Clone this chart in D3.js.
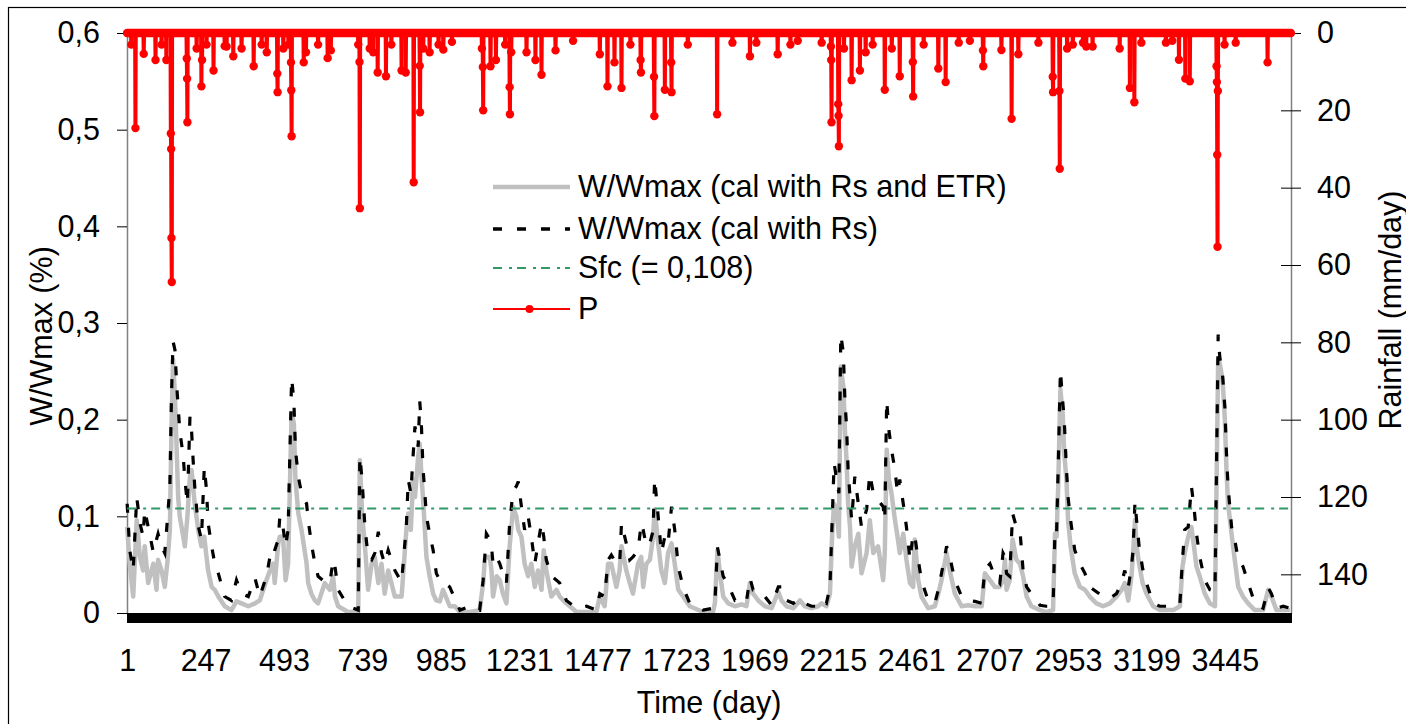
<!DOCTYPE html>
<html><head><meta charset="utf-8">
<script src="https://cdn.jsdelivr.net/npm/d3@7"></script>
<style>
html,body{margin:0;padding:0;background:#fff;overflow:hidden}
svg{display:block}
</style></head><body>
<svg id="chart" width="1406" height="724"></svg>
<script>
// ---------------- DATA ----------------
const nDays = 3652;
const xTickDays = [1,247,493,739,985,1231,1477,1723,1969,2215,2461,2707,2953,3199,3445];
const leftTicks = [0,0.1,0.2,0.3,0.4,0.5,0.6];
const rightTicks = [0,20,40,60,80,100,120,140];
const sfcValue = 0.108;
const seriesNames = ["W/Wmax (cal with Rs and ETR)","W/Wmax (cal with Rs)","Sfc (= 0,108)","P"];

const wDays = [
1,9,20,31,41,51,56,67,83,93,
98,109,119,128,135,140,145,151,156,161,
166,177,182,190,198,203,208,213,224,234,
243,250,255,266,276,287,307,328,344,360,
381,402,417,438,449,459,464,475,480,490,
498,506,517,524,529,538,548,564,569,579,
590,600,621,637,647,653,663,694,726,731,
738,747,757,768,778,789,799,809,820,830,
841,862,877,883,891,898,904,914,919,924,
929,935,940,950,961,971,982,992,997,1013,
1029,1045,1076,1107,1118,1123,1128,1139,1144,1149,
1160,1170,1180,1191,1201,1212,1222,1228,1238,1248,
1259,1269,1280,1290,1301,1308,1316,1332,1348,1358,
1379,1411,1442,1473,1484,1499,1510,1520,1536,1546,
1552,1567,1578,1588,1604,1614,1620,1630,1641,1651,
1656,1667,1677,1688,1698,1709,1719,1730,1745,1766,
1808,1839,1845,1853,1861,1871,1887,1908,1929,1944,
1955,1965,1981,2002,2023,2044,2054,2070,2091,2112,
2127,2148,2169,2180,2195,2206,2213,2219,2227,2234,
2240,2248,2253,2258,2263,2269,2274,2284,2295,2305,
2321,2331,2342,2357,2373,2378,2384,2391,2399,2410,
2418,2425,2436,2446,2457,2467,2472,2483,2493,2514,
2535,2546,2556,2572,2582,2598,2619,2640,2661,2682,
2692,2708,2723,2739,2749,2755,2760,2770,2779,2791,
2802,2812,2823,2838,2865,2885,2906,2912,2917,2922,
2929,2936,2941,2948,2953,2961,2974,2990,3006,3021,
3042,3063,3084,3105,3121,3131,3142,3152,3157,3163,
3168,3176,3187,3199,3220,3241,3262,3283,3304,3312,
3319,3330,3340,3348,3356,3366,3382,3398,3414,3424,
3429,3438,3445,3450,3455,3466,3476,3487,3502,3518,
3539,3565,3581,3591,3607,3628,3649];

const wRsEtr = [
.089,.051,.017,.096,.058,.044,.069,.031,.051,.024,
.055,.044,.027,.055,.086,.189,.262,.224,.172,.120,
.100,.079,.069,.100,.141,.148,.131,.113,.086,.069,
.079,.058,.044,.027,.024,.017,.007,.003,.012,.010,
.007,.010,.013,.034,.044,.051,.031,.072,.079,.079,
.034,.051,.207,.196,.138,.103,.086,.051,.031,.020,
.013,.010,.031,.024,.038,.017,.007,.001,.001,.158,
.103,.069,.024,.051,.058,.031,.051,.020,.044,.031,
.017,.017,.086,.103,.086,.138,.120,.162,.175,.144,
.120,.086,.058,.038,.020,.013,.012,.024,.020,.007,
.007,.001,.001,.003,.031,.055,.058,.058,.044,.017,
.038,.034,.020,.010,.069,.110,.100,.086,.079,.051,
.038,.051,.027,.044,.024,.065,.044,.017,.024,.017,
.010,.001,.001,.001,.017,.007,.051,.051,.027,.044,
.069,.044,.031,.020,.051,.058,.027,.051,.055,.079,
.107,.072,.044,.031,.062,.072,.051,.024,.017,.007,
.001,.001,.010,.065,.041,.017,.010,.007,.009,.007,
.031,.020,.013,.007,.005,.022,.013,.007,.005,.013,
.007,.005,.007,.010,.007,.020,.082,.113,.107,.079,
.255,.234,.189,.158,.113,.089,.048,.069,.082,.041,
.062,.096,.062,.069,.034,.062,.169,.138,.124,.096,
.079,.062,.082,.055,.031,.027,.076,.034,.017,.005,
.007,.020,.034,.062,.044,.020,.007,.008,.007,.007,
.041,.034,.027,.027,.034,.055,.024,.034,.076,.055,
.051,.038,.017,.007,.003,.001,.003,.082,.079,.130,
.231,.207,.165,.138,.096,.069,.041,.027,.024,.017,
.010,.007,.010,.017,.024,.031,.013,.038,.062,.096,
.069,.051,.031,.020,.007,.003,.003,.003,.007,.048,
.062,.079,.089,.069,.048,.038,.020,.010,.007,.262,
.258,.241,.200,.148,.113,.082,.055,.027,.017,.010,
.003,.003,.024,.017,.003,.003,.003];

const wRs = [
.113,.065,.044,.120,.093,.079,.107,.089,.063,.076,
.082,.069,.062,.100,.131,.224,.281,.272,.238,.213,
.189,.162,.138,.113,.203,.189,.158,.131,.090,.076,
.151,.127,.093,.069,.051,.041,.017,.013,.034,.020,
.017,.036,.017,.038,.058,.055,.065,.076,.100,.089,
.069,.086,.243,.220,.169,.141,.124,.113,.096,.072,
.051,.038,.032,.031,.055,.048,.024,.007,.003,.162,
.138,.089,.058,.055,.062,.084,.062,.051,.065,.055,
.044,.032,.090,.138,.124,.162,.193,.172,.219,.196,
.151,.124,.100,.082,.065,.041,.034,.034,.031,.027,
.015,.003,.007,.003,.034,.058,.082,.076,.069,.051,
.058,.051,.041,.031,.093,.127,.131,.136,.110,.086,
.100,.079,.051,.072,.093,.079,.055,.038,.034,.031,
.013,.005,.007,.003,.020,.017,.055,.060,.051,.050,
.093,.072,.055,.058,.065,.093,.086,.069,.072,.085,
.139,.100,.062,.079,.072,.110,.086,.048,.027,.010,
.003,.005,.010,.068,.055,.038,.029,.013,.015,.012,
.036,.024,.024,.017,.008,.027,.027,.013,.010,.015,
.010,.007,.007,.013,.010,.027,.096,.155,.138,.124,
.288,.269,.220,.193,.148,.120,.096,.141,.113,.089,
.107,.144,.124,.117,.110,.096,.220,.189,.169,.148,
.124,.138,.113,.089,.055,.082,.080,.055,.034,.013,
.010,.024,.041,.069,.058,.034,.017,.013,.012,.010,
.045,.051,.038,.031,.062,.058,.041,.038,.103,.089,
.086,.044,.027,.020,.008,.007,.007,.085,.082,.150,
.251,.220,.200,.148,.120,.096,.065,.051,.041,.027,
.022,.017,.015,.020,.031,.044,.027,.048,.065,.115,
.096,.069,.046,.031,.010,.007,.007,.007,.010,.055,
.086,.089,.131,.110,.082,.058,.034,.024,.022,.288,
.265,.245,.213,.165,.131,.089,.076,.055,.048,.031,
.010,.005,.026,.020,.005,.007,.005];

const rainDays = [
14,27,53,90,109,124,138,139,140,141,
188,189,190,219,234,236,250,272,307,313,
334,360,398,423,439,472,473,491,507,515,
516,517,555,562,600,630,640,726,730,731,
762,773,787,813,830,862,875,900,919,920,
930,950,978,993,1020,1114,1117,1118,1141,1158,
1187,1201,1202,1206,1254,1282,1301,1345,1400,1484,
1508,1530,1552,1580,1612,1613,1654,1655,1688,1708,
1709,1760,1852,1900,1955,1975,2042,2082,2105,2180,
2209,2210,2211,2232,2233,2234,2250,2274,2300,2318,
2340,2378,2400,2425,2466,2467,2500,2546,2569,2610,
2645,2686,2687,2744,2776,2797,2860,2905,2906,2926,
2927,2950,2968,3000,3010,3030,3115,3147,3161,3183,
3260,3280,3301,3321,3335,3419,3420,3421,3422,3423,
3444,3479,3579];

const rainMm = [
3,24.6,5.4,7,3,7,26,30,53,64.4,
6.6,11.8,23.1,4,13.8,7,3,9.7,3.4,3.5,
6,4,8.6,3,5,10.5,15.3,4,3,7.6,
14.8,26.7,7.6,5,3,6.5,4.5,3,7.5,45.3,
4,5,10.2,11.2,3,9.7,10.2,38.6,8.5,20.5,
4,5,3,4.3,2.3,4,8.8,20,8.6,7,
3,14,21,5,5,7,10.8,4.5,2,5.5,
13.8,7.6,14.2,3,7,10.2,11.3,21.5,14.7,7.6,
15.3,3,21,2.5,6,2.5,5.5,3,2,2.5,
3.5,7,23.1,18.4,21.4,29.3,4,12.2,9.7,5,
3,14.7,4,11.2,7.5,16.4,3,9.2,12.7,2.5,
2,4.5,8.6,4.4,22.2,5.5,2.5,11.3,15.3,15,
35.1,4,3,2.5,3.5,3.5,4,14.2,17.9,2.5,
2.5,2,6.9,11.8,12.5,8.6,12.7,31.5,55.3,15,
3,2.5,7.6];

// ---------------- CHART ----------------
const FONT = '"Liberation Sans", Arial, Helvetica, sans-serif';
const FS = 30.5;
const svg = d3.select("#chart").attr("font-family", FONT);

const plot = {left:127, right:1291, top:33, bottom:613};
const x = d3.scaleLinear().domain([0.5, nDays + 0.5]).range([plot.left, plot.right]);
const yL = d3.scaleLinear().domain([0, 0.6]).range([plot.bottom, plot.top]);
const yR = d3.scaleLinear().domain([0, 150]).range([plot.top, plot.bottom]);

// outer chart border
svg.append("rect").attr("x", 8.5).attr("y", 7.5).attr("width", 1500).attr("height", 800)
  .attr("fill", "#fff").attr("stroke", "#000").attr("stroke-width", 1.2);

// left axis
const fmtL = d => d === 0 ? "0" : d.toFixed(1).replace(".", ",");
const gL = svg.append("g").attr("transform", `translate(${plot.left},0)`)
  .call(d3.axisLeft(yL).tickValues(leftTicks).tickFormat(fmtL).tickSize(10).tickSizeOuter(0).tickPadding(17));
gL.attr("font-family", FONT).attr("font-size", FS);
gL.select(".domain").attr("stroke", "#808080").attr("stroke-width", 1.5);
gL.selectAll(".tick line").attr("stroke", "#000");
gL.selectAll(".tick text").attr("fill", "#000");

// right axis (ticks crossing the axis line)
const gR = svg.append("g").attr("transform", `translate(${plot.right},0)`)
  .call(d3.axisRight(yR).tickValues(rightTicks).tickSize(10).tickSizeOuter(0).tickPadding(16));
gR.attr("font-family", FONT).attr("font-size", FS);
gR.select(".domain").attr("stroke", "#808080").attr("stroke-width", 1.5);
gR.selectAll(".tick line").attr("x1", -10).attr("stroke", "#000");
gR.selectAll(".tick text").attr("fill", "#000");

// x labels
const gX = svg.append("g").attr("transform", `translate(0,${plot.bottom})`)
  .call(d3.axisBottom(x).tickValues(xTickDays).tickFormat(d3.format("d")).tickSize(0).tickPadding(36));
gX.attr("font-family", FONT).attr("font-size", FS);
gX.select(".domain").remove();
gX.selectAll(".tick text").attr("fill", "#000");

// series: W/Wmax with Rs and ETR
const idx = d3.range(wDays.length);
const lineEtr = d3.line().x(i => x(wDays[i])).y(i => yL(wRsEtr[i]));
const lineRs = d3.line().x(i => x(wDays[i])).y(i => yL(wRs[i]));
svg.append("path").datum(idx).attr("d", lineEtr)
  .attr("fill", "none").attr("stroke", "#c0c0c0").attr("stroke-width", 4.5).attr("stroke-linejoin", "round");
svg.append("path").datum(idx).attr("d", lineRs)
  .attr("fill", "none").attr("stroke", "#000").attr("stroke-width", 3.2).attr("stroke-dasharray", "9,15");

// Sfc line
svg.append("line").attr("x1", x(1)).attr("x2", x(nDays)).attr("y1", yL(sfcValue)).attr("y2", yL(sfcValue))
  .attr("stroke", "#339966").attr("stroke-width", 2).attr("stroke-dasharray", "9,7,3,5");

// bottom category tick band
const gB = svg.append("g").attr("transform", `translate(0,${plot.bottom})`)
  .call(d3.axisBottom(x).tickValues(d3.range(0.5, nDays + 1, 1)).tickSize(10).tickSizeOuter(0).tickFormat(""));
gB.select(".domain").attr("stroke", "#000");
gB.selectAll(".tick line").attr("stroke", "#000");

// rainfall (secondary, inverted axis)
const rainColor = "#ff0000";
// zero baseline of the daily series
svg.append("path").datum([1, nDays])
  .attr("d", d3.line().x(d => x(d)).y(() => yR(0)))
  .attr("stroke", rainColor).attr("stroke-width", 8.5).attr("stroke-linecap", "round").attr("fill", "none");
// group consecutive rainy days
const groups = [];
rainDays.forEach((d, i) => {
  const last = groups[groups.length - 1];
  if (last && d === last[last.length - 1].d + 1) last.push({d, v: rainMm[i]});
  else groups.push([{d, v: rainMm[i]}]);
});
const rainLine = d3.line().x(p => x(p.d)).y(p => yR(p.v));
groups.forEach(g => {
  const pts = [{d: g[0].d - 1, v: 0}, ...g, {d: g[g.length - 1].d + 1, v: 0}];
  svg.append("path").datum(pts).attr("d", rainLine)
    .attr("fill", "none").attr("stroke", rainColor).attr("stroke-width", 4).attr("stroke-linejoin", "round");
});
svg.append("g").selectAll("circle").data(rainDays.map((d, i) => ({d, v: rainMm[i]}))).join("circle")
  .attr("cx", p => x(p.d)).attr("cy", p => yR(p.v)).attr("r", 4.2).attr("fill", rainColor);

// legend
const lg = svg.append("g").attr("font-family", FONT).attr("font-size", FS);
const lx0 = 493, lx1 = 570, ltx = 578;
const rows = [187, 229, 268, 309];
lg.append("line").attr("x1", lx0).attr("x2", lx1).attr("y1", rows[0]).attr("y2", rows[0])
  .attr("stroke", "#c0c0c0").attr("stroke-width", 4.5);
lg.append("line").attr("x1", lx0).attr("x2", lx1).attr("y1", rows[1]).attr("y2", rows[1])
  .attr("stroke", "#000").attr("stroke-width", 3.6).attr("stroke-dasharray", "9,15");
lg.append("line").attr("x1", lx0).attr("x2", lx1).attr("y1", rows[2]).attr("y2", rows[2])
  .attr("stroke", "#339966").attr("stroke-width", 2).attr("stroke-dasharray", "9,7,3,5");
lg.append("line").attr("x1", lx0).attr("x2", lx1).attr("y1", rows[3]).attr("y2", rows[3])
  .attr("stroke", rainColor).attr("stroke-width", 1.8);
lg.append("circle").attr("cx", (lx0 + lx1) / 2 - 2).attr("cy", rows[3]).attr("r", 4).attr("fill", rainColor);
seriesNames.forEach((n, i) => {
  lg.append("text").attr("x", ltx).attr("y", rows[i]).attr("dy", "0.34em").attr("fill", "#000").text(n);
});

// axis titles
svg.append("text").attr("x", (plot.left + plot.right) / 2).attr("y", 713).attr("text-anchor", "middle")
  .attr("font-size", FS).attr("fill", "#000").text("Time (day)");
svg.append("text").attr("transform", "translate(52,336) rotate(-90)").attr("text-anchor", "middle")
  .attr("font-size", FS).attr("fill", "#000").text("W/Wmax (%)");
svg.append("text").attr("transform", "translate(1401,310) rotate(-90)").attr("text-anchor", "middle")
  .attr("font-size", FS).attr("fill", "#000").text("Rainfall (mm/day)");
</script>
</body></html>
